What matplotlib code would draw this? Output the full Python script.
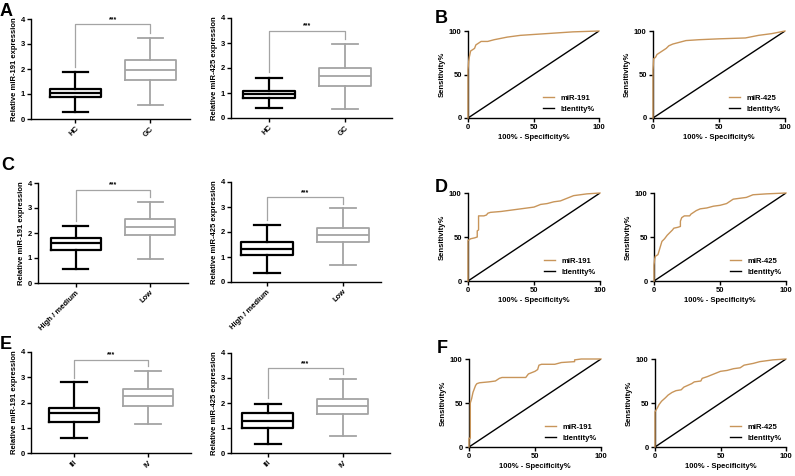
import matplotlib
matplotlib.use("Agg")
import matplotlib.pyplot as plt

plt.rcParams['font.family'] = ['Liberation Sans', 'DejaVu Sans']
plt.rcParams['font.weight'] = 'bold'
plt.rcParams['axes.labelweight'] = 'bold'

# ---- box plot data: five-number summaries (whislo, q1, med, q3, whishi) ----
A_191_groups = ["HC", "GC"]
A_191_hc = [0.27, 0.87, 1.03, 1.19, 1.89]
A_191_gc = [0.57, 1.56, 1.96, 2.36, 3.25]
A_191_sig = [3.79, 2.09, 3.43]   # bracket top, left drop, right drop

A_425_groups = ["HC", "GC"]
A_425_hc = [0.40, 0.79, 0.96, 1.09, 1.61]
A_425_gc = [0.36, 1.28, 1.67, 1.99, 2.96]
A_425_sig = [3.49, 1.83, 3.16]

C_191_groups = ["High / medium", "Low"]
C_191_hm = [0.57, 1.31, 1.61, 1.81, 2.28]
C_191_low = [0.97, 1.93, 2.24, 2.57, 3.24]
C_191_sig = [3.73, 2.48, 3.44]

C_425_groups = ["High / medium", "Low"]
C_425_hm = [0.36, 1.09, 1.33, 1.61, 2.29]
C_425_low = [0.68, 1.60, 1.89, 2.16, 2.95]
C_425_sig = [3.39, 2.49, 3.12]

E_191_groups = ["III", "IV"]
E_191_iii = [0.60, 1.24, 1.57, 1.77, 2.80]
E_191_iv = [1.13, 1.86, 2.26, 2.54, 3.26]
E_191_sig = [3.69, 2.96, 3.43]

E_425_groups = ["III", "IV"]
E_425_iii = [0.37, 1.02, 1.30, 1.59, 1.96]
E_425_iv = [0.70, 1.55, 1.88, 2.15, 2.95]
E_425_sig = [3.40, 2.19, 3.18]

# ---- ROC curves (100% - specificity, sensitivity) ----
B_191_x = [0, 0, 0.5, 1, 2, 4, 5, 6, 8, 10, 15, 20, 30, 40, 50, 60, 70, 80, 90, 100]
B_191_y = [0, 55, 65, 70, 77, 79, 80, 84, 86, 88, 88, 90, 93, 95, 96, 97, 98, 99, 99.5, 100]
B_425_x = [0, 0, 0.5, 2, 3, 5, 8, 10, 12, 15, 20, 25, 35, 50, 70, 80, 90, 100]
B_425_y = [0, 55, 68, 70, 73, 75, 78, 80, 83, 85, 87, 89, 90, 91, 92, 95, 97, 100]

D_191_x = [0, 0, 2, 5, 7, 7, 8, 8, 12, 14, 15, 17, 25, 30, 40, 50, 55, 60, 65, 70, 75, 80, 90, 100]
D_191_y = [0, 46, 48, 49, 50, 57, 58, 74, 74, 75, 77, 78, 79, 80, 82, 84, 87, 88, 90, 91, 94, 97, 99, 100]
D_425_x = [0, 0, 0.5, 1, 3, 4, 5, 6, 8, 10, 12, 14, 15, 18, 20, 20, 21, 23, 27, 28, 30, 32, 35, 40,
           45, 50, 55, 60, 65, 70, 75, 85, 100]
D_425_y = [0, 18, 25, 28, 30, 35, 40, 45, 48, 52, 55, 58, 60, 61, 62, 68, 72, 74, 74, 76, 78, 80, 82, 83,
           85, 86, 88, 93, 94, 95, 98, 99, 100]

F_191_x = [0, 0, 1, 1, 2, 3, 4, 5, 6, 8, 15, 20, 23, 25, 43, 45, 50, 52, 53, 55, 65, 70, 80, 80, 85, 100]
F_191_y = [0, 10, 10, 50, 55, 62, 66, 70, 72, 73, 74, 75, 78, 79, 79, 83, 86, 88, 93, 94, 94, 96, 97, 99, 100, 100]
F_425_x = [0, 0, 2, 3, 5, 8, 10, 13, 16, 20, 22, 25, 28, 30, 35, 36, 40, 45, 50, 55, 60, 65, 68, 75,
           80, 85, 90, 100]
F_425_y = [0, 40, 45, 48, 52, 56, 59, 62, 64, 65, 68, 70, 72, 74, 75, 78, 80, 83, 86, 87, 89, 90, 93, 95,
           97, 98, 99, 100]

W, H = 795, 476
fig = plt.figure(figsize=(W / 100, H / 100), dpi=100)

GRAY = "#a4a4a4"
ROC_COLOR = "#c8955a"
FS = 5.5


def px_axes(l, t, r, b):
    return fig.add_axes([l / W, 1 - b / H, (r - l) / W, (b - t) / H])


def style_axes(ax):
    for side in ["top", "right"]:
        ax.spines[side].set_visible(False)
    for side in ["left", "bottom"]:
        ax.spines[side].set_linewidth(1.0)
    ax.tick_params(direction="out", length=3, width=1.0, labelsize=FS, pad=1.5)


def stats(five, label):
    lo, q1, med, q3, hi = five
    return dict(whislo=lo, q1=q1, med=med, q3=q3, whishi=hi, label=label)


def box_panel(box, groups, g1, g2, sig, ylabel, xlim):
    ax = px_axes(*box)
    style_axes(ax)
    for pos, five, color, lw in [(1, g1, "black", 1.6), (2, g2, GRAY, 1.3)]:
        props = dict(color=color, linewidth=lw)
        ax.bxp([stats(five, groups[pos - 1])], positions=[pos], widths=0.68,
               capwidths=0.34, showfliers=False,
               boxprops=props, whiskerprops=props, capprops=props,
               medianprops=props)
    top, left_drop, right_drop = sig
    ax.plot([1, 1, 2, 2], [left_drop, top, top, right_drop], color=GRAY, linewidth=0.9,
            clip_on=False)
    ax.text(1.5, top + 0.05, "***", ha="center", va="bottom", fontsize=5, color="black")
    ax.set_ylim(0, 4)
    ax.set_yticks([0, 1, 2, 3, 4])
    ax.set_xlim(*xlim)
    ax.set_xticks([1, 2])
    ax.set_xticklabels(groups, rotation=45, ha="right", rotation_mode="anchor", fontsize=FS)
    ax.set_ylabel(ylabel, fontsize=FS, labelpad=2)
    return ax


def roc_panel(box, xs, ys, name):
    ax = px_axes(*box)
    style_axes(ax)
    ax.plot(xs, ys, color=ROC_COLOR, linewidth=1.0, label=name, clip_on=False, zorder=3)
    ax.plot([0, 100], [0, 100], color="black", linewidth=1.0, label="Identity%")
    ax.set_xlim(0, 100)
    ax.set_ylim(0, 100)
    ax.set_xticks([0, 50, 100])
    ax.set_yticks([0, 50, 100])
    ax.set_xlabel("100% - Specificity%", fontsize=FS, labelpad=2)
    ax.set_ylabel("Sensitivity%", fontsize=FS, labelpad=2)
    ax.legend(loc="lower right", bbox_to_anchor=(1.02, -0.02), frameon=False, fontsize=FS,
              handlelength=1.4, handletextpad=0.9, labelspacing=0.45)
    return ax


box_panel((31, 19, 190, 119), A_191_groups, A_191_hc, A_191_gc, A_191_sig,
          "Relative miR-191 expression", (0.41, 2.53))
box_panel((231, 18, 392, 118), A_425_groups, A_425_hc, A_425_gc, A_425_sig,
          "Relative miR-425 expression", (0.5, 2.62))
box_panel((38, 183, 188, 283), C_191_groups, C_191_hm, C_191_low, C_191_sig,
          "Relative miR-191 expression", (0.49, 2.51))
box_panel((231, 182, 381, 282), C_425_groups, C_425_hm, C_425_low, C_425_sig,
          "Relative miR-425 expression", (0.53, 2.5))
box_panel((31, 352, 191, 453), E_191_groups, E_191_iii, E_191_iv, E_191_sig,
          "Relative miR-191 expression", (0.42, 2.58))
box_panel((231, 353, 390, 453), E_425_groups, E_425_iii, E_425_iv, E_425_sig,
          "Relative miR-425 expression", (0.51, 2.63))

roc_panel((468, 31, 599, 118), B_191_x, B_191_y, "miR-191")
roc_panel((653, 31, 785, 118), B_425_x, B_425_y, "miR-425")
roc_panel((468, 193, 600, 281), D_191_x, D_191_y, "miR-191")
roc_panel((654, 193, 786, 281), D_425_x, D_425_y, "miR-425")
roc_panel((469, 359, 601, 447), F_191_x, F_191_y, "miR-191")
roc_panel((655, 359, 786, 447), F_425_x, F_425_y, "miR-425")

# panel letters
for letter, x, y in [("A", 0, 3), ("B", 435, 10), ("C", 1, 157), ("D", 435, 179),
                     ("E", 0, 336), ("F", 437, 340)]:
    fig.text(x / W, 1 - y / H, letter, fontsize=13, fontweight="bold", va="top", ha="left")

fig.savefig("out.png", dpi=100)
